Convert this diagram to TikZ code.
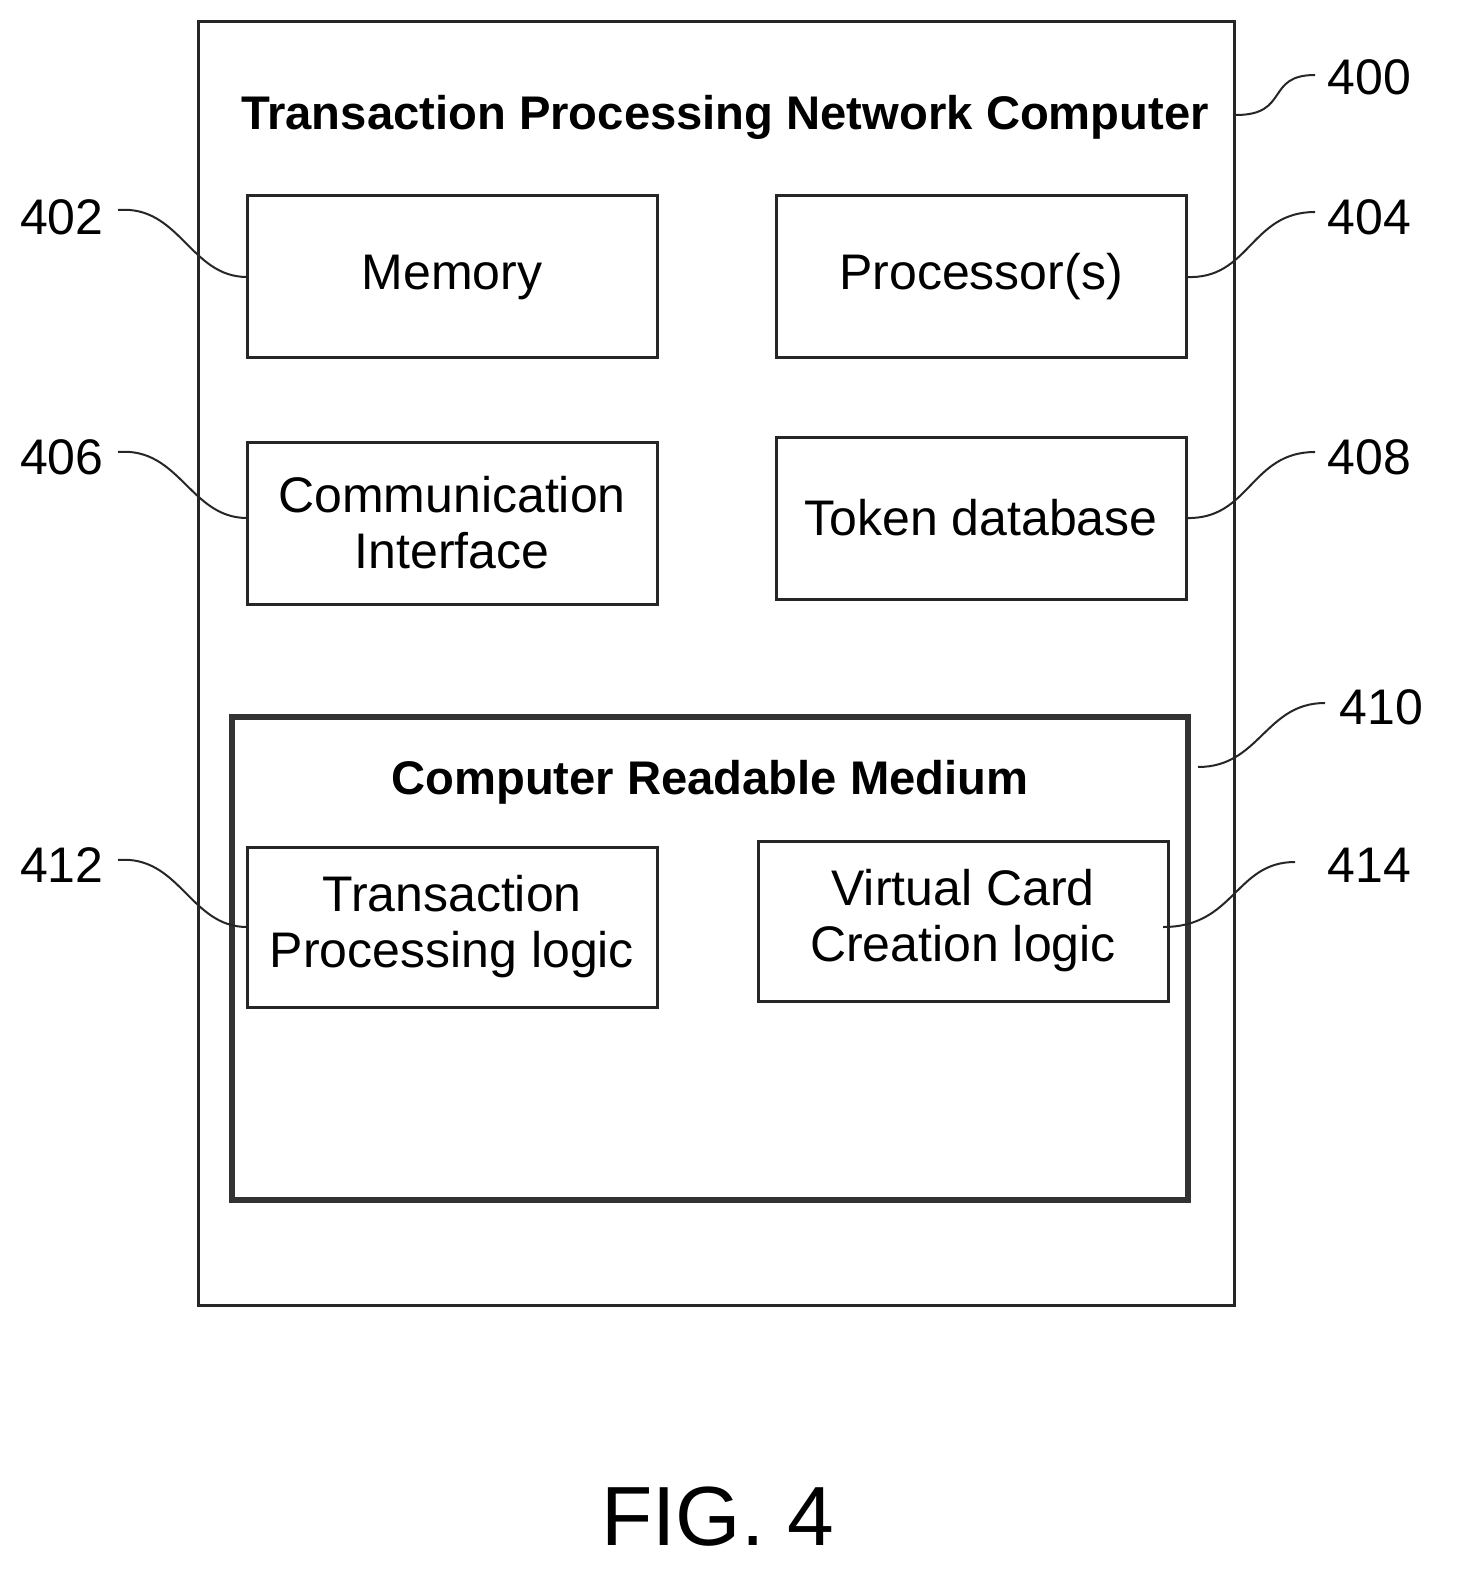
\documentclass[tikz,border=0pt]{standalone}
\usepackage{fontspec}
\setmainfont{Liberation Sans}
\begin{document}
\begin{tikzpicture}[x=0.5pt,y=-0.5pt,
  box/.style={draw=black!85,line width=1.5pt,inner sep=0pt,align=center,font=\fontsize{25}{28}\selectfont},
  num/.style={font=\fontsize{25}{28}\selectfont,inner sep=0pt},
  lead/.style={draw=black!85,line width=1pt}]
\useasboundingbox (0,0) rectangle (1456,1583);
\node[box,minimum width=518pt,minimum height=641.5pt] (outer) at (716,663.5) {};
\node[font=\bfseries\fontsize{23.6}{26}\selectfont] (t1) at (725,117) {Transaction Processing Network Computer};
\node[box,minimum width=205pt,minimum height=81pt] (mem) at (452,277) {Memory};
\node[box,minimum width=205pt,minimum height=81pt] (proc) at (981,277) {Processor(s)};
\node[box,minimum width=205pt,minimum height=81pt] (comm) at (452,523) {Communication\\Interface};
\node[box,minimum width=205pt,minimum height=81pt] (tok) at (981,518) {Token database};
\node[draw=black!80,line width=3pt,minimum width=478pt,minimum height=241.5pt,inner sep=0pt] (crm) at (710,958.5) {};
\node[font=\bfseries\fontsize{23.6}{26}\selectfont] (t2) at (710,782) {Computer Readable Medium};
\node[box,minimum width=205pt,minimum height=80pt] (tpl) at (452,927) {Transaction\\Processing logic};
\node[box,minimum width=205pt,minimum height=80pt] (vcc) at (963,921) {Virtual Card\\Creation logic};
\node[font=\fontsize{42}{46}\selectfont] (fig) at (718,1517) {FIG. 4};
\node[num,anchor=west] (n400) at (1327,77) {400};
\node[num,anchor=east] (n402) at (104,217) {402};
\node[num,anchor=west] (n404) at (1327,217) {404};
\node[num,anchor=east] (n406) at (104,457) {406};
\node[num,anchor=west] (n408) at (1327,457) {408};
\node[num,anchor=west] (n410) at (1339,707) {410};
\node[num,anchor=east] (n412) at (104,865) {412};
\node[num,anchor=west] (n414) at (1327,865) {414};
\coordinate (a400) at (1236,115); \coordinate (b400) at (1315,75);
\coordinate (a402) at (118,210); \coordinate (b402) at (247,277);
\coordinate (a404) at (1186,277); \coordinate (b404) at (1315,212);
\coordinate (a406) at (118,452); \coordinate (b406) at (247,518);
\coordinate (a408) at (1186,518); \coordinate (b408) at (1315,452);
\coordinate (a410) at (1198,767); \coordinate (b410) at (1325,703);
\coordinate (a412) at (118,860); \coordinate (b412) at (247,927);
\coordinate (a414) at (1163,927); \coordinate (b414) at (1295,862);
\draw[lead] (a400) .. controls (1290,115) and (1265,75) .. (b400);
\draw[lead] (a402) .. controls (180,205) and (190,277) .. (b402);
\draw[lead] (a404) .. controls (1250,280) and (1250,212) .. (b404);
\draw[lead] (a406) .. controls (180,447) and (190,518) .. (b406);
\draw[lead] (a408) .. controls (1250,520) and (1250,452) .. (b408);
\draw[lead] (a410) .. controls (1260,767) and (1265,703) .. (b410);
\draw[lead] (a412) .. controls (180,855) and (190,927) .. (b412);
\draw[lead] (a414) .. controls (1235,927) and (1235,862) .. (b414);
\end{tikzpicture}
\end{document}
